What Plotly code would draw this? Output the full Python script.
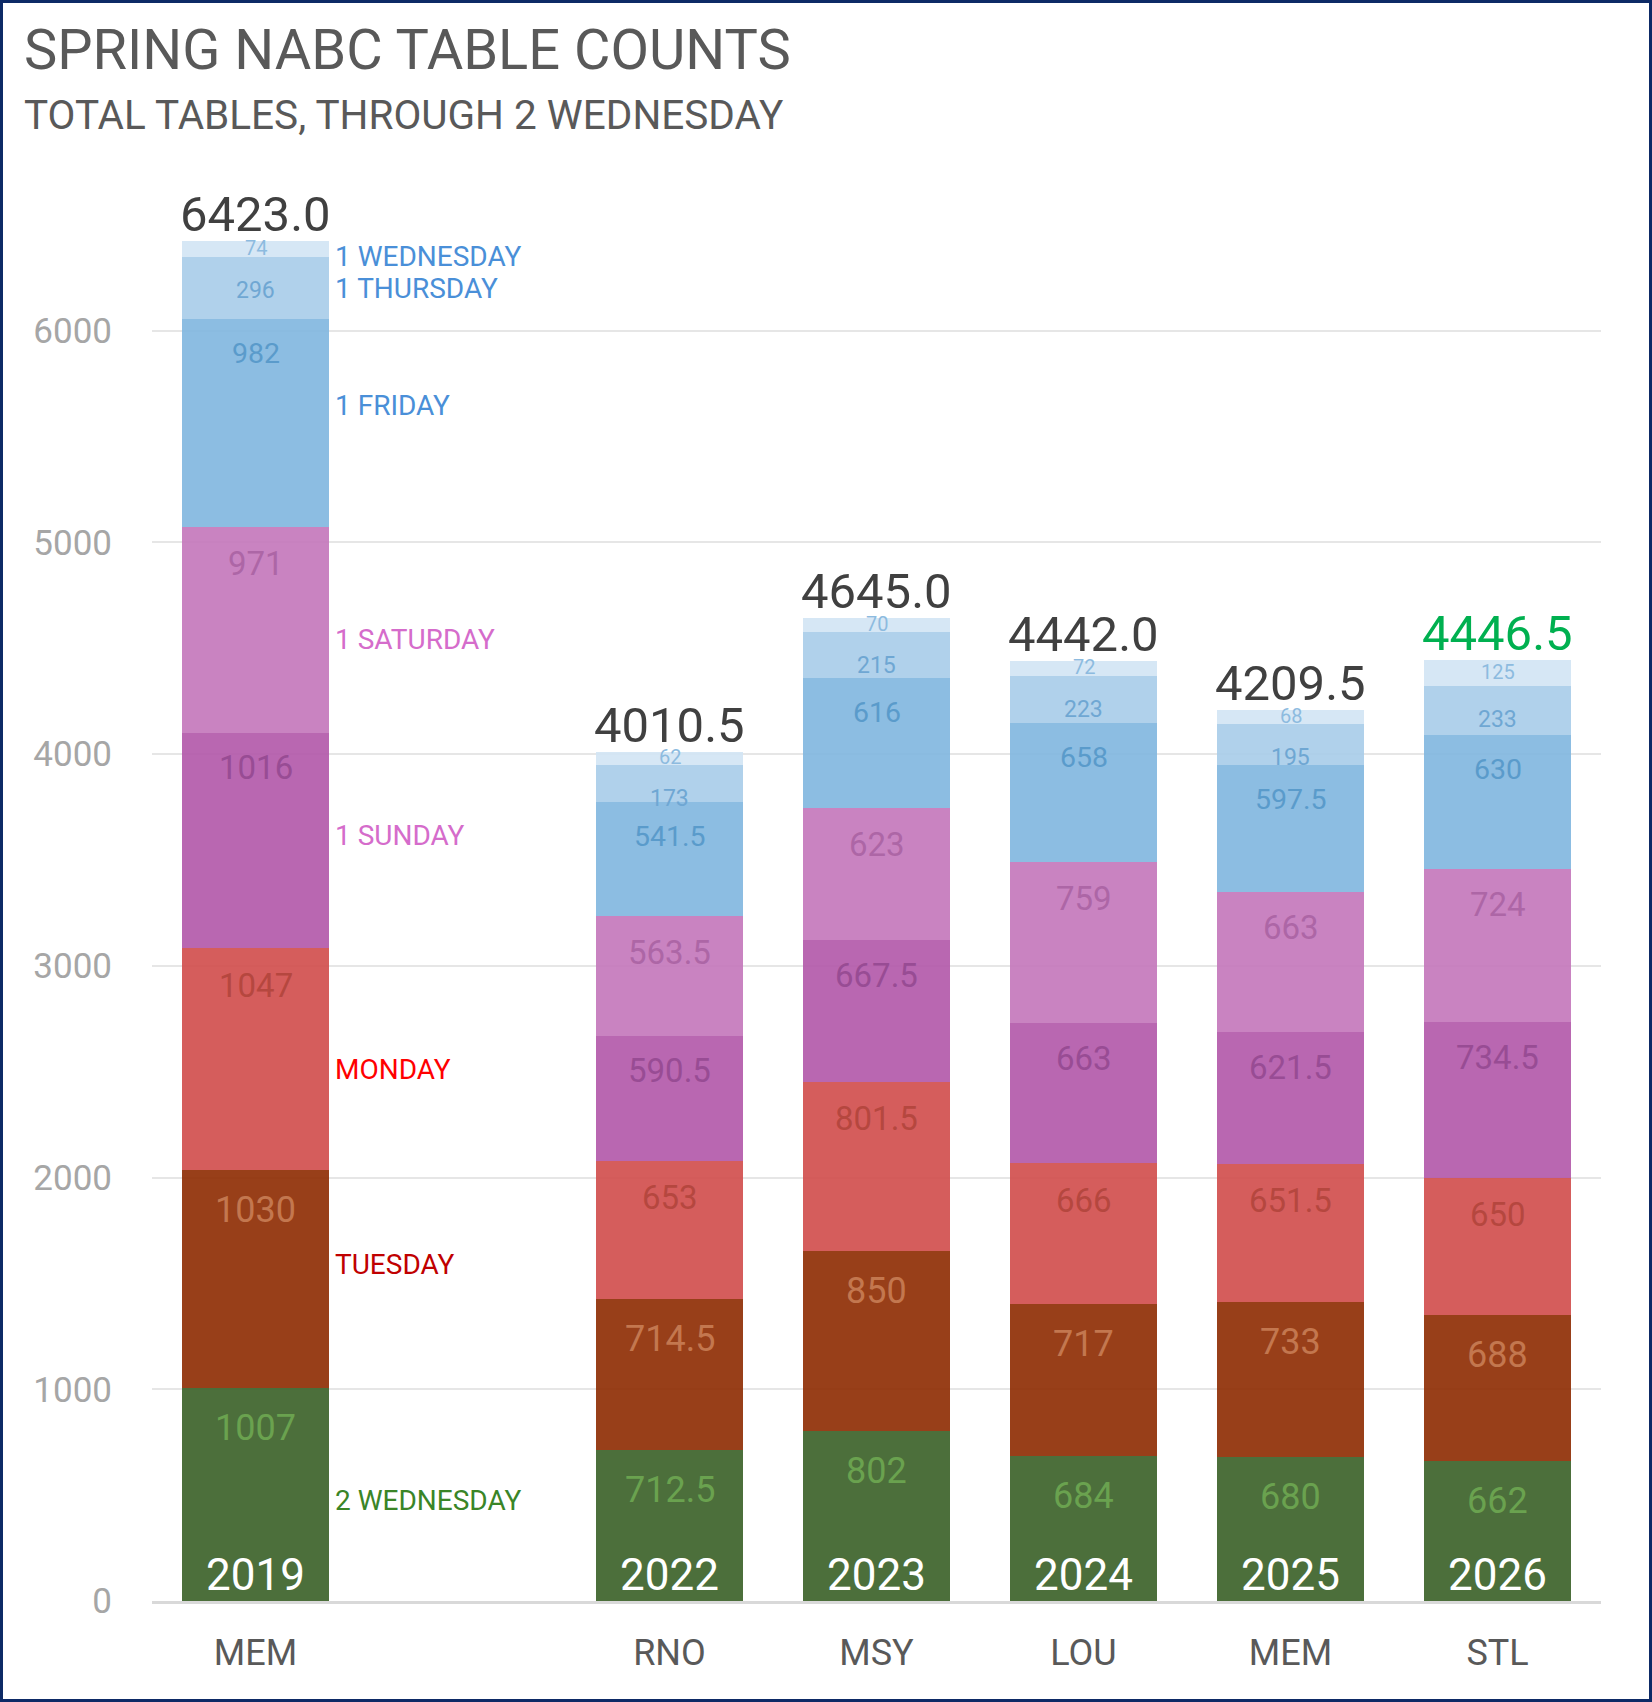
import numpy as np
import plotly.graph_objects as go

# ---------------- data ----------------
cities = ["MEM", "RNO", "MSY", "LOU", "MEM", "STL"]
years = ["2019", "2022", "2023", "2024", "2025", "2026"]
series_names = ["2 WEDNESDAY", "TUESDAY", "MONDAY", "1 SUNDAY",
                "1 SATURDAY", "1 FRIDAY", "1 THURSDAY", "1 WEDNESDAY"]
wed2 = [1007, 712.5, 802, 684, 680, 662]
tue = [1030, 714.5, 850, 717, 733, 688]
mon = [1047, 653, 801.5, 666, 651.5, 650]
sun1 = [1016, 590.5, 667.5, 663, 621.5, 734.5]
sat1 = [971, 563.5, 623, 759, 663, 724]
fri1 = [982, 541.5, 616, 658, 597.5, 630]
thu1 = [296, 173, 215, 223, 195, 233]
wed1 = [74, 62, 70, 72, 68, 125]
y_ticks = [0, 1000, 2000, 3000, 4000, 5000, 6000]

series_values = [wed2, tue, mon, sun1, sat1, fri1, thu1, wed1]

# ---------------- styles ----------------
W, H = 1652, 1702
ML, MR, MT, MB = 152, 51, 119, 101
PW, PH = W - ML - MR, H - MT - MB
FONT = "Roboto"
ALPHA = 0.9

# x slots (slot 1 is left empty for the series name labels)
slots = [0, 2, 3, 4, 5, 6]
BARW = 0.71

bar_colors_obs = ["#4d6f3c", "#983f12", "#d55d5c", "#b968b1",
                  "#c984c1", "#8cbde2", "#b0d1eb", "#d6e7f5"]
label_colors = ["#6aa24f", "#c3774f", "#b5473f", "#984c94",
                "#ad66a6", "#5a9bcb", "#6fa7d3", "#8dbbdf"]
label_sizes = [36, 36, 33, 33, 33, 28.5, 23, 20]
label_drop = [40, 40, 37, 35, 36, 34.5, 33.5, None]  # None -> centred
legend_colors = ["#3a8527", "#c00000", "#ff0000", "#d56ccb",
                 "#d56ccb", "#4a8fd8", "#4a8fd8", "#4a8fd8"]
legend_yshift = [-6, 14, -11, 5, -9, 18, 0, -8]


def obs_to_rgba(hexcol, a):
    h = hexcol.lstrip("#")
    rgb = [int(h[i:i + 2], 16) for i in (0, 2, 4)]
    base = [max(0, min(255, round((c - (1 - a) * 255) / a))) for c in rgb]
    return f"rgba({base[0]},{base[1]},{base[2]},{a})"


fig = go.Figure()
for name, vals, col in zip(series_names, series_values, bar_colors_obs):
    fig.add_trace(go.Bar(
        x=slots, y=vals, name=name, width=BARW,
        marker=dict(color=obs_to_rgba(col, ALPHA), line=dict(width=0)),
        hoverinfo="name+y",
    ))

annotations = []
vals_arr = np.array(series_values, dtype=float)
cum = np.cumsum(vals_arr, axis=0)
totals = cum[-1]

# segment value labels
for si, name in enumerate(series_names):
    for ci, x in enumerate(slots):
        v = vals_arr[si, ci]
        top = cum[si, ci]
        if label_drop[si] is None:
            y, ysh = top - v / 2, 1
        else:
            y, ysh = top, -label_drop[si]
        annotations.append(dict(
            x=x, y=y, xref="x", yref="y", text=f"{v:g}", showarrow=False,
            yanchor="middle", xanchor="center", yshift=ysh, borderpad=0,
            font=dict(family=FONT, size=label_sizes[si], color=label_colors[si]),
        ))

# totals
for ci, x in enumerate(slots):
    col = "#00b050" if ci == len(slots) - 1 else "#404040"
    annotations.append(dict(
        x=x, y=totals[ci], xref="x", yref="y", text=f"{totals[ci]:.1f}",
        showarrow=False, yanchor="bottom", xanchor="center", yshift=-3,
        borderpad=0, font=dict(family=FONT, size=49, color=col),
    ))

# year labels inside the bars
for ci, x in enumerate(slots):
    annotations.append(dict(
        x=x, y=0, xref="x", yref="y", text=years[ci], showarrow=False,
        yanchor="bottom", xanchor="center", yshift=-2,
        font=dict(family=FONT, size=44, color="white"),
    ))

# series names next to the first bar
for si, name in enumerate(series_names):
    v = vals_arr[si, 0]
    centre = cum[si, 0] - v / 2
    annotations.append(dict(
        x=slots[0] + BARW / 2, y=centre, xref="x", yref="y", text=name,
        showarrow=False, xanchor="left", yanchor="middle", xshift=4,
        yshift=legend_yshift[si],
        font=dict(family=FONT, size=28, color=legend_colors[si]),
    ))

# title & subtitle
annotations.append(dict(
    x=(22 - ML) / PW, y=(H - MB - 50) / PH, xref="paper", yref="paper",
    text="SPRING NABC TABLE COUNTS", showarrow=False, xanchor="left",
    yanchor="middle", font=dict(family=FONT, size=56, color="#595959"),
))
annotations.append(dict(
    x=(22 - ML) / PW, y=(H - MB - 115) / PH, xref="paper", yref="paper",
    text="TOTAL TABLES, THROUGH 2 WEDNESDAY", showarrow=False, xanchor="left",
    yanchor="middle", font=dict(family=FONT, size=40.5, color="#595959"),
))

shapes = [dict(
    type="rect", xref="paper", yref="paper",
    x0=(-ML + 1.5) / PW, x1=1 + (MR - 1.5) / PW,
    y0=(-MB + 1.5) / PH, y1=1 + (MT - 1.5) / PH,
    line=dict(color="#0d2a66", width=3), fillcolor="rgba(0,0,0,0)",
    layer="above",
)]

fig.update_layout(
    width=W, height=H,
    margin=dict(l=ML, r=MR, t=MT, b=MB, pad=0),
    paper_bgcolor="white", plot_bgcolor="white",
    barmode="stack", showlegend=False,
    font=dict(family=FONT),
    annotations=annotations, shapes=shapes,
    xaxis=dict(
        range=[-0.5, 6.5], tickvals=slots, ticktext=cities,
        showgrid=False, zeroline=False, showline=True,
        linecolor="#d9d9d9", linewidth=3, ticks="",
        tickfont=dict(family=FONT, size=36, color="#595959"),
        ticklabelstandoff=18,
    ),
    yaxis=dict(
        range=[0, 7000], tickvals=y_ticks, showgrid=True,
        gridcolor="#e6e6e6", gridwidth=2, zeroline=False, showline=False,
        ticks="", tickfont=dict(family=FONT, size=35, color="#a6a6a6"),
        ticklabelstandoff=39,
    ),
)

fig.write_html(
    "out.html",
    config={"displayModeBar": False},
    post_script="document.body.style.margin='0';document.body.style.overflow='hidden';",
)
